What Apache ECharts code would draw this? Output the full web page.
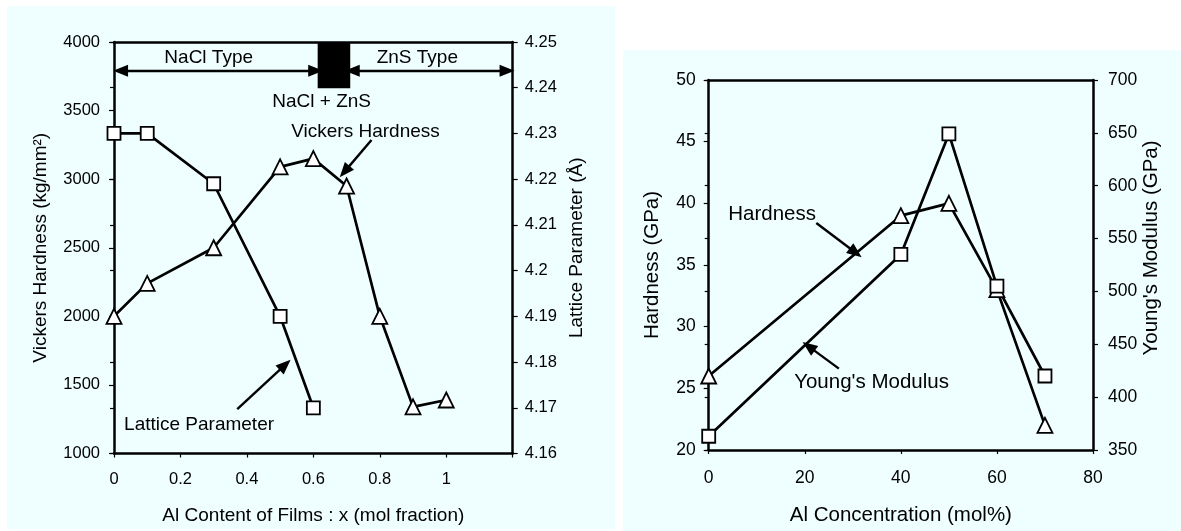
<!DOCTYPE html>
<html>
<head>
<meta charset="utf-8">
<script src="https://cdn.jsdelivr.net/npm/echarts@6/dist/echarts.min.js"></script>
<style>
  html, body { margin: 0; padding: 0; background: #ffffff; }
  #chart { width: 1181px; height: 531px; }
</style>
</head>
<body>
<div id="chart"></div>
<script>
// Left panel: films vs Al content
const alFractionHardness = [0, 0.1, 0.3, 0.5, 0.6, 0.7, 0.8, 0.9, 1.0];
const vickersHardness = [2000, 2240, 2500, 3090, 3150, 2950, 2000, 1340, 1390];
const alFractionLattice = [0, 0.1, 0.3, 0.5, 0.6];
const latticeParameter = [4.230, 4.230, 4.219, 4.190, 4.170];

// Right panel: hardness and modulus vs Al concentration
const alConcentration = [0, 40, 50, 60, 70];
const hardnessGPa = [26, 39, 40, 33, 22];
const youngsModulus = [363, 535, 649, 505, 420];

const FONT = "'Liberation Sans', Arial, Helvetica, sans-serif";
const INK = '#000000';
const PANEL = '#effefe';

const pairs = (xs, ys) => xs.map((x, i) => [x, ys[i]]);
const plain = v => String(+(+v).toFixed(2));

function valueAxis(opts) {
  const fs = opts.fontSize || 16.5;
  const nfs = opts.nameSize || 19;
  return Object.assign({
    type: 'value',
    splitLine: { show: false },
    axisLine: { show: true, onZero: false, lineStyle: { color: INK, width: 2.5 } },
    axisTick: { show: true, inside: false, length: 5, lineStyle: { color: INK, width: 1.2 } },
    axisLabel: { color: INK, fontFamily: FONT, fontSize: fs, showMinLabel: true, showMaxLabel: true, formatter: plain },
    nameLocation: 'middle',
    nameTextStyle: Object.assign({ color: INK, fontFamily: FONT, fontSize: nfs }, opts.nameExtra || {})
  }, opts.extra);
}

const noteLabel = (fs) => ({ show: true, color: INK, fontFamily: FONT, fontSize: fs, position: 'inside' });
function notes(items, fs) {
  return {
    silent: true,
    symbol: 'rect',
    symbolSize: 1,
    itemStyle: { color: 'rgba(0,0,0,0)' },
    label: noteLabel(fs),
    data: items.map(n => ({ coord: n.at, label: Object.assign(noteLabel(fs), { formatter: n.text }) }))
  };
}
function arrows(items) {
  return {
    silent: true,
    animation: false,
    symbolSize: [12, 15],
    label: { show: false },
    lineStyle: { color: INK, width: 2.4, type: 'solid' },
    emphasis: { disabled: true },
    data: items.map(a => [
      { coord: a.from, symbol: a.both ? 'triangle' : 'none' },
      { coord: a.to, symbol: 'triangle' }
    ])
  };
}

const markerStyle = { color: '#ffffff', borderColor: INK, borderWidth: 1.8 };
const tickStyle = { color: INK, width: 1.2 };

const option = {
  animation: false,
  backgroundColor: '#ffffff',
  graphic: [
    { type: 'rect', shape: { x: 7, y: 6, width: 608, height: 523 }, style: { fill: PANEL }, z: -10, silent: true },
    { type: 'rect', shape: { x: 623, y: 50, width: 558, height: 481 }, style: { fill: PANEL }, z: -10, silent: true }
  ],
  grid: [
    { left: 114, top: 42, width: 398.7, height: 411.5 },
    { left: 708.7, top: 80, width: 384.3, height: 371 }
  ],
  xAxis: [
    valueAxis({ extra: {
      gridIndex: 0, min: 0, max: 1.2, interval: 0.2, position: 'bottom',
      name: 'Al Content of Films : x (mol fraction)', nameGap: 53,
      axisTick: { show: true, length: 4, lineStyle: tickStyle },
      axisLabel: { color: INK, fontFamily: FONT, fontSize: 16.5, margin: 17, showMinLabel: true, showMaxLabel: true,
        formatter: v => (Math.abs(v - 1.2) < 1e-6 ? '' : String(+v.toFixed(1))) }
    } }),
    valueAxis({ extra: {
      gridIndex: 0, min: 0, max: 1.2, position: 'top',
      axisTick: { show: false }, axisLabel: { show: false }
    } }),
    valueAxis({ fontSize: 17.5, nameSize: 20.5, extra: {
      gridIndex: 1, min: 0, max: 80, interval: 20, position: 'bottom',
      name: 'Al Concentration (mol%)', nameGap: 55,
      axisTick: { show: true, length: 4, lineStyle: tickStyle },
      axisLabel: { color: INK, fontFamily: FONT, fontSize: 17.5, margin: 19, showMinLabel: true, showMaxLabel: true, formatter: plain }
    } }),
    valueAxis({ extra: {
      gridIndex: 1, min: 0, max: 80, position: 'top',
      axisTick: { show: false }, axisLabel: { show: false }
    } })
  ],
  yAxis: [
    // 0: left panel, hardness
    valueAxis({ extra: {
      gridIndex: 0, min: 1000, max: 4000, interval: 500, position: 'left',
      name: 'Vickers Hardness (kg/mm\u00b2)', nameGap: 64, nameRotate: 90,
      axisLabel: { color: INK, fontFamily: FONT, fontSize: 16.5, margin: 14, showMinLabel: true, showMaxLabel: true, formatter: plain }
    } }),
    // 1: left panel, lattice parameter
    valueAxis({ extra: {
      gridIndex: 0, min: 4.16, max: 4.25, interval: 0.01, position: 'right',
      name: 'Lattice Parameter (\u00c5)', nameGap: 55, nameRotate: 90,
      axisLabel: { color: INK, fontFamily: FONT, fontSize: 16.5, margin: 12, showMinLabel: true, showMaxLabel: true, formatter: plain }
    } }),
    // 2: right panel, hardness
    valueAxis({ fontSize: 17.5, nameSize: 20.5, extra: {
      gridIndex: 1, min: 20, max: 50, interval: 5, position: 'left',
      name: 'Hardness (GPa)', nameGap: 46, nameRotate: 90,
      axisLabel: { color: INK, fontFamily: FONT, fontSize: 17.5, margin: 13, showMinLabel: true, showMaxLabel: true, formatter: plain }
    } }),
    // 3: right panel, modulus (title sits a little above the middle)
    valueAxis({ fontSize: 17.5, nameSize: 20.5, nameExtra: { padding: [0, 0, 0, 34] }, extra: {
      gridIndex: 1, min: 350, max: 700, interval: 50, position: 'right',
      name: "Young's Modulus (GPa)", nameGap: 44, nameRotate: 90,
      axisLabel: { color: INK, fontFamily: FONT, fontSize: 17.5, margin: 15, showMinLabel: true, showMaxLabel: true, formatter: plain }
    } }),
    // 4, 5: inner halves of the crossing ticks on the right-hand axes
    valueAxis({ extra: {
      gridIndex: 0, min: 4.16, max: 4.25, interval: 0.01, position: 'right',
      axisLine: { show: false }, axisLabel: { show: false },
      axisTick: { show: true, inside: true, length: 4, lineStyle: tickStyle }
    } }),
    valueAxis({ extra: {
      gridIndex: 1, min: 350, max: 700, interval: 50, position: 'right',
      axisLine: { show: false }, axisLabel: { show: false },
      axisTick: { show: true, inside: true, length: 4, lineStyle: tickStyle }
    } })
  ],
  series: [
    {
      name: 'Vickers Hardness', type: 'line', xAxisIndex: 0, yAxisIndex: 0,
      data: pairs(alFractionHardness, vickersHardness),
      symbol: 'triangle', symbolSize: 15, showAllSymbol: true,
      lineStyle: { color: INK, width: 2.7 }, itemStyle: markerStyle, z: 3,
      markArea: {
        silent: true,
        itemStyle: { color: INK, opacity: 1 },
        label: { show: false },
        data: [[{ coord: [0.613, 3663] }, { coord: [0.711, 4000] }]]
      },
      markLine: arrows([
        { from: [0.0197, 3791], to: [0.607, 3791], both: true },
        { from: [0.717, 3791], to: [1.183, 3791], both: true },
        { from: [0.775, 3286], to: [0.694, 3055] },
        { from: [0.371, 1323], to: [0.515, 1646] }
      ]),
      markPoint: notes([
        { at: [0.285, 3888], text: 'NaCl Type' },
        { at: [0.913, 3888], text: 'ZnS Type' },
        { at: [0.625, 3565], text: 'NaCl + ZnS' },
        { at: [0.757, 3346], text: 'Vickers Hardness' },
        { at: [0.256, 1213], text: 'Lattice Parameter' }
      ], 19)
    },
    {
      name: 'Lattice Parameter', type: 'line', xAxisIndex: 0, yAxisIndex: 1,
      data: pairs(alFractionLattice, latticeParameter),
      symbol: 'rect', symbolSize: 13, showAllSymbol: true,
      lineStyle: { color: INK, width: 2.7 }, itemStyle: markerStyle, z: 3
    },
    {
      name: 'Hardness', type: 'line', xAxisIndex: 2, yAxisIndex: 2,
      data: pairs(alConcentration, hardnessGPa),
      symbol: 'triangle', symbolSize: 15, showAllSymbol: true,
      lineStyle: { color: INK, width: 2.7 }, itemStyle: markerStyle, z: 3,
      markLine: arrows([
        { from: [22.4, 38.4], to: [30.6, 36.0] },
        { from: [27.1, 26.6], to: [20.8, 28.4] }
      ]),
      markPoint: notes([
        { at: [13.2, 39.08], text: 'Hardness' },
        { at: [33.9, 25.45], text: "Young's Modulus" }
      ], 20.5)
    },
    {
      name: "Young's Modulus", type: 'line', xAxisIndex: 2, yAxisIndex: 3,
      data: pairs(alConcentration, youngsModulus),
      symbol: 'rect', symbolSize: 13, showAllSymbol: true,
      lineStyle: { color: INK, width: 2.7 }, itemStyle: markerStyle, z: 3
    }
  ]
};

const chart = echarts.init(document.getElementById('chart'), null, { renderer: 'canvas' });
chart.setOption(option);
</script>
</body>
</html>
